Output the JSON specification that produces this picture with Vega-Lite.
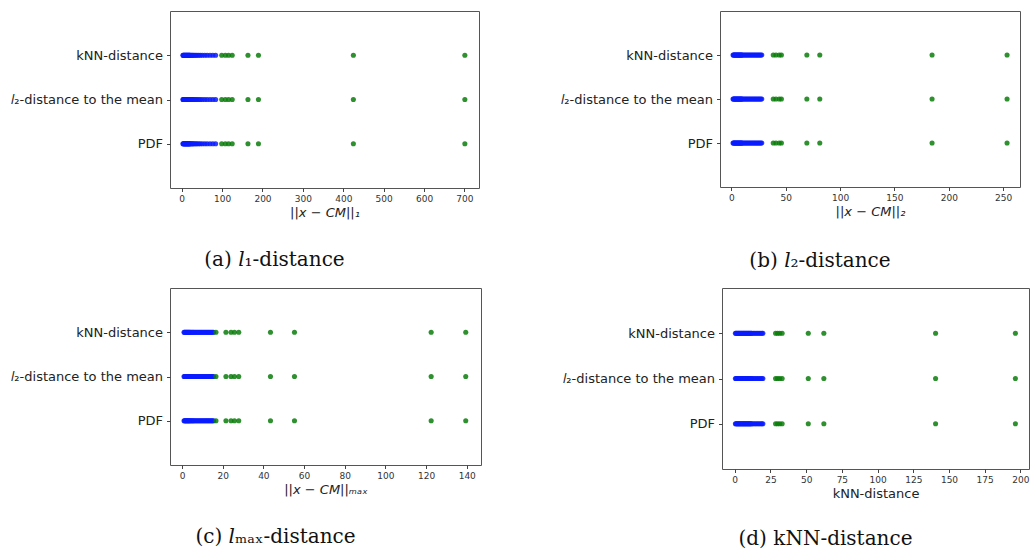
{
  "$schema": "https://vega.github.io/schema/vega-lite/v6.json",
  "padding": {"left": 10, "top": 10, "right": 0, "bottom": 0},
  "background": "white",
  "data": {"values": [
    {"p":"a","v":3,"o":"in"},{"p":"a","v":4,"o":"in"},{"p":"a","v":5,"o":"in"},{"p":"a","v":6,"o":"in"},{"p":"a","v":7,"o":"in"},{"p":"a","v":8,"o":"in"},{"p":"a","v":9,"o":"in"},{"p":"a","v":10,"o":"in"},{"p":"a","v":11,"o":"in"},{"p":"a","v":12,"o":"in"},{"p":"a","v":13,"o":"in"},{"p":"a","v":14,"o":"in"},{"p":"a","v":15,"o":"in"},{"p":"a","v":16,"o":"in"},{"p":"a","v":17,"o":"in"},{"p":"a","v":18,"o":"in"},{"p":"a","v":19,"o":"in"},{"p":"a","v":20,"o":"in"},{"p":"a","v":21,"o":"in"},{"p":"a","v":23,"o":"in"},{"p":"a","v":25,"o":"in"},{"p":"a","v":27,"o":"in"},{"p":"a","v":29,"o":"in"},{"p":"a","v":32,"o":"in"},{"p":"a","v":35,"o":"in"},{"p":"a","v":38,"o":"in"},{"p":"a","v":42,"o":"in"},{"p":"a","v":46,"o":"in"},{"p":"a","v":51,"o":"in"},{"p":"a","v":57,"o":"in"},{"p":"a","v":63,"o":"in"},{"p":"a","v":70,"o":"in"},{"p":"a","v":77,"o":"in"},{"p":"a","v":84,"o":"in"},
    {"p":"a","v":99,"o":"out"},{"p":"a","v":108,"o":"out"},{"p":"a","v":116,"o":"out"},{"p":"a","v":125,"o":"out"},{"p":"a","v":164,"o":"out"},{"p":"a","v":190,"o":"out"},{"p":"a","v":425,"o":"out"},{"p":"a","v":701,"o":"out"},
    {"p":"b","v":1.5,"o":"in"},{"p":"b","v":2,"o":"in"},{"p":"b","v":2.5,"o":"in"},{"p":"b","v":3,"o":"in"},{"p":"b","v":3.5,"o":"in"},{"p":"b","v":4,"o":"in"},{"p":"b","v":4.5,"o":"in"},{"p":"b","v":5,"o":"in"},{"p":"b","v":5.5,"o":"in"},{"p":"b","v":6,"o":"in"},{"p":"b","v":6.5,"o":"in"},{"p":"b","v":7,"o":"in"},{"p":"b","v":7.5,"o":"in"},{"p":"b","v":8,"o":"in"},{"p":"b","v":8.5,"o":"in"},{"p":"b","v":9,"o":"in"},{"p":"b","v":9.5,"o":"in"},{"p":"b","v":10,"o":"in"},{"p":"b","v":11,"o":"in"},{"p":"b","v":12,"o":"in"},{"p":"b","v":13,"o":"in"},{"p":"b","v":14,"o":"in"},{"p":"b","v":15,"o":"in"},{"p":"b","v":16,"o":"in"},{"p":"b","v":17,"o":"in"},{"p":"b","v":18,"o":"in"},{"p":"b","v":19,"o":"in"},{"p":"b","v":20,"o":"in"},{"p":"b","v":21,"o":"in"},{"p":"b","v":22,"o":"in"},{"p":"b","v":23,"o":"in"},{"p":"b","v":24,"o":"in"},{"p":"b","v":25,"o":"in"},{"p":"b","v":26,"o":"in"},{"p":"b","v":27,"o":"in"},{"p":"b","v":28,"o":"in"},
    {"p":"b","v":38.5,"o":"out"},{"p":"b","v":41,"o":"out"},{"p":"b","v":44,"o":"out"},{"p":"b","v":46,"o":"out"},{"p":"b","v":69.4,"o":"out"},{"p":"b","v":81.3,"o":"out"},{"p":"b","v":184.6,"o":"out"},{"p":"b","v":253.6,"o":"out"},
    {"p":"c","v":1,"o":"in"},{"p":"c","v":1.3,"o":"in"},{"p":"c","v":1.6,"o":"in"},{"p":"c","v":1.9,"o":"in"},{"p":"c","v":2.2,"o":"in"},{"p":"c","v":2.5,"o":"in"},{"p":"c","v":2.8,"o":"in"},{"p":"c","v":3.1,"o":"in"},{"p":"c","v":3.4,"o":"in"},{"p":"c","v":3.7,"o":"in"},{"p":"c","v":4,"o":"in"},{"p":"c","v":4.4,"o":"in"},{"p":"c","v":4.8,"o":"in"},{"p":"c","v":5.2,"o":"in"},{"p":"c","v":5.6,"o":"in"},{"p":"c","v":6,"o":"in"},{"p":"c","v":6.5,"o":"in"},{"p":"c","v":7,"o":"in"},{"p":"c","v":7.5,"o":"in"},{"p":"c","v":8,"o":"in"},{"p":"c","v":8.5,"o":"in"},{"p":"c","v":9,"o":"in"},{"p":"c","v":9.5,"o":"in"},{"p":"c","v":10,"o":"in"},{"p":"c","v":10.5,"o":"in"},{"p":"c","v":11,"o":"in"},{"p":"c","v":11.5,"o":"in"},{"p":"c","v":12,"o":"in"},{"p":"c","v":12.5,"o":"in"},{"p":"c","v":13,"o":"in"},{"p":"c","v":13.5,"o":"in"},{"p":"c","v":14,"o":"in"},{"p":"c","v":14.5,"o":"in"},{"p":"c","v":15,"o":"in"},{"p":"c","v":15.5,"o":"in"},
    {"p":"c","v":16.7,"o":"out"},{"p":"c","v":21.6,"o":"out"},{"p":"c","v":24.1,"o":"out"},{"p":"c","v":25.8,"o":"out"},{"p":"c","v":27.9,"o":"out"},{"p":"c","v":43.5,"o":"out"},{"p":"c","v":55.3,"o":"out"},{"p":"c","v":122.5,"o":"out"},{"p":"c","v":139.5,"o":"out"},
    {"p":"d","v":0.5,"o":"in"},{"p":"d","v":1,"o":"in"},{"p":"d","v":1.5,"o":"in"},{"p":"d","v":2,"o":"in"},{"p":"d","v":2.5,"o":"in"},{"p":"d","v":3,"o":"in"},{"p":"d","v":3.5,"o":"in"},{"p":"d","v":4,"o":"in"},{"p":"d","v":4.5,"o":"in"},{"p":"d","v":5,"o":"in"},{"p":"d","v":5.5,"o":"in"},{"p":"d","v":6,"o":"in"},{"p":"d","v":6.5,"o":"in"},{"p":"d","v":7,"o":"in"},{"p":"d","v":7.5,"o":"in"},{"p":"d","v":8,"o":"in"},{"p":"d","v":8.5,"o":"in"},{"p":"d","v":9,"o":"in"},{"p":"d","v":9.5,"o":"in"},{"p":"d","v":10,"o":"in"},{"p":"d","v":10.5,"o":"in"},{"p":"d","v":11,"o":"in"},{"p":"d","v":11.5,"o":"in"},{"p":"d","v":12,"o":"in"},{"p":"d","v":13,"o":"in"},{"p":"d","v":14,"o":"in"},{"p":"d","v":15,"o":"in"},{"p":"d","v":16,"o":"in"},{"p":"d","v":17,"o":"in"},{"p":"d","v":18,"o":"in"},{"p":"d","v":19,"o":"in"},{"p":"d","v":19.7,"o":"in"},
    {"p":"d","v":28.6,"o":"out"},{"p":"d","v":30,"o":"out"},{"p":"d","v":31.5,"o":"out"},{"p":"d","v":33.2,"o":"out"},{"p":"d","v":51.5,"o":"out"},{"p":"d","v":62.4,"o":"out"},{"p":"d","v":140.6,"o":"out"},{"p":"d","v":196.5,"o":"out"}
  ]},
  "vconcat": [
    {"hconcat": [
      {
        "width": 309, "height": 177,
        "title": {"text": "(a) 𝑙₁-distance", "dx": -50},
        "transform": [{"filter": "datum.p == 'a'"}],
        "encoding": {
          "x": {"field": "v", "type": "quantitative", "scale": {"domain": [-29, 736], "nice": false, "zero": false}, "axis": {"values": [0,100,200,300,400,500,600,700], "title": "||x − CM||₁", "titleFontStyle": "italic"}},
          "color": {"field": "o", "type": "nominal", "scale": {"domain": ["in","out"], "range": ["#0a1cff","#0a7d0a"]}, "legend": null}
        },
        "layer": [
          {"mark": {"type": "circle", "size": 26, "opacity": 0.85}, "encoding": {"y": {"datum": "kNN-distance", "type": "nominal", "scale": {"type": "point", "domain": ["kNN-distance","𝑙₂-distance to the mean","PDF"], "padding": 1}, "axis": {"title": null}}}},
          {"mark": {"type": "circle", "size": 26, "opacity": 0.85}, "encoding": {"y": {"datum": "𝑙₂-distance to the mean", "type": "nominal"}}},
          {"mark": {"type": "circle", "size": 26, "opacity": 0.85}, "encoding": {"y": {"datum": "PDF", "type": "nominal"}}}
        ]
      },
      {
        "width": 300, "height": 176,
        "title": {"text": "(b) 𝑙₂-distance", "dx": -50, "offset": 32},
        "transform": [{"filter": "datum.p == 'b'"}],
        "encoding": {
          "x": {"field": "v", "type": "quantitative", "scale": {"domain": [-10.5, 265.5], "nice": false, "zero": false}, "axis": {"values": [0,50,100,150,200,250], "title": "||x − CM||₂", "titleFontStyle": "italic"}},
          "color": {"field": "o", "type": "nominal", "scale": {"domain": ["in","out"], "range": ["#0a1cff","#0a7d0a"]}, "legend": null}
        },
        "layer": [
          {"mark": {"type": "circle", "size": 26, "opacity": 0.85}, "encoding": {"y": {"datum": "kNN-distance", "type": "nominal", "scale": {"type": "point", "domain": ["kNN-distance","𝑙₂-distance to the mean","PDF"], "padding": 1}, "axis": {"title": null}}}},
          {"mark": {"type": "circle", "size": 26, "opacity": 0.85}, "encoding": {"y": {"datum": "𝑙₂-distance to the mean", "type": "nominal"}}},
          {"mark": {"type": "circle", "size": 26, "opacity": 0.85}, "encoding": {"y": {"datum": "PDF", "type": "nominal"}}}
        ]
      }
    ]},
    {"hconcat": [
      {
        "width": 311, "height": 177,
        "title": {"text": "(c) 𝑙ₘₐₓ-distance", "dx": -50},
        "transform": [{"filter": "datum.p == 'c'"}],
        "encoding": {
          "x": {"field": "v", "type": "quantitative", "scale": {"domain": [-5.9, 147], "nice": false, "zero": false}, "axis": {"values": [0,20,40,60,80,100,120,140], "title": "||x − CM||ₘₐₓ", "titleFontStyle": "italic"}},
          "color": {"field": "o", "type": "nominal", "scale": {"domain": ["in","out"], "range": ["#0a1cff","#0a7d0a"]}, "legend": null}
        },
        "layer": [
          {"mark": {"type": "circle", "size": 26, "opacity": 0.85}, "encoding": {"y": {"datum": "kNN-distance", "type": "nominal", "scale": {"type": "point", "domain": ["kNN-distance","𝑙₂-distance to the mean","PDF"], "padding": 1}, "axis": {"title": null}}}},
          {"mark": {"type": "circle", "size": 26, "opacity": 0.85}, "encoding": {"y": {"datum": "𝑙₂-distance to the mean", "type": "nominal"}}},
          {"mark": {"type": "circle", "size": 26, "opacity": 0.85}, "encoding": {"y": {"datum": "PDF", "type": "nominal"}}}
        ]
      },
      {
        "width": 307, "height": 181,
        "title": {"text": "(d) kNN-distance", "dx": -50, "offset": 28},
        "transform": [{"filter": "datum.p == 'd'"}],
        "encoding": {
          "x": {"field": "v", "type": "quantitative", "scale": {"domain": [-8.9, 206], "nice": false, "zero": false}, "axis": {"values": [0,25,50,75,100,125,150,175,200], "title": "kNN-distance"}},
          "color": {"field": "o", "type": "nominal", "scale": {"domain": ["in","out"], "range": ["#0a1cff","#0a7d0a"]}, "legend": null}
        },
        "layer": [
          {"mark": {"type": "circle", "size": 26, "opacity": 0.85}, "encoding": {"y": {"datum": "kNN-distance", "type": "nominal", "scale": {"type": "point", "domain": ["kNN-distance","𝑙₂-distance to the mean","PDF"], "padding": 1}, "axis": {"title": null}}}},
          {"mark": {"type": "circle", "size": 26, "opacity": 0.85}, "encoding": {"y": {"datum": "𝑙₂-distance to the mean", "type": "nominal"}}},
          {"mark": {"type": "circle", "size": 26, "opacity": 0.85}, "encoding": {"y": {"datum": "PDF", "type": "nominal"}}}
        ]
      }
    ], "spacing": 80}
  ],
  "spacing": 16,
  "config": {
    "font": "DejaVu Sans",
    "concat": {"spacing": 80},
    "view": {"stroke": "#555", "strokeWidth": 1},
    "axis": {"grid": false, "domain": false, "tickColor": "#444", "tickSize": 3.5, "labelColor": "#333", "titleColor": "#222", "titleFontWeight": "normal", "titleFontSize": 13, "labelPadding": 3},
    "axisX": {"labelFontSize": 9, "titlePadding": 3},
    "axisY": {"labelFontSize": 13, "labelColor": "#222", "labelPadding": 4},
    "title": {"orient": "bottom", "font": "DejaVu Serif", "fontSize": 20, "fontWeight": "normal", "color": "#111", "anchor": "middle", "offset": 30}
  }
}
